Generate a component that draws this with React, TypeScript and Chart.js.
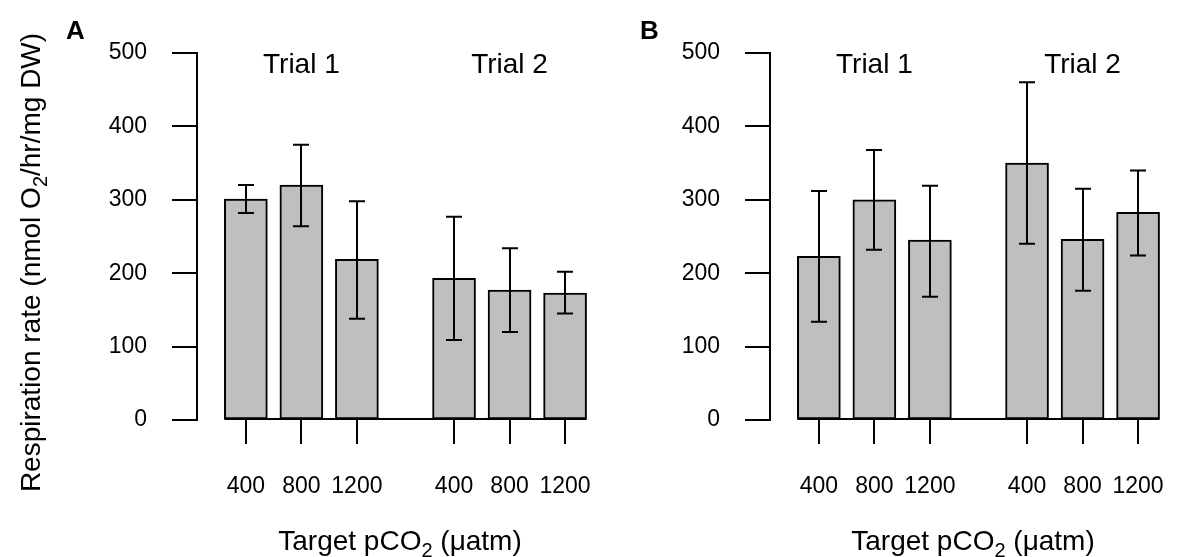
import React, { useEffect, useRef } from "react";
import { Chart, registerables } from "chart.js";

Chart.register(...registerables);

// ---------- data ----------
const doseLabels = ["400", "800", "1200"];
const trialLabels = ["Trial 1", "Trial 2"];
const yTickValues = [0, 100, 200, 300, 400, 500];

const meansA = [301, 320, 219, 193, 177, 173];
const lowA = [282, 264, 138, 109, 120, 145];
const highA = [320, 375, 298, 277, 234, 202];

const meansB = [223, 300, 245, 350, 246, 283];
const lowB = [134, 232, 168, 240, 176, 224];
const highB = [312, 368, 319, 460, 315, 340];

const xTitleParts = [
  { text: "Target pCO" },
  { text: "2", sub: true },
  { text: " (\u03bcatm)" },
];
const yTitleParts = [
  { text: "Respiration rate (nmol O" },
  { text: "2", sub: true },
  { text: "/hr/mg DW)" },
];

// ---------- layout / style ----------
const FONT = '"Liberation Sans", Arial, Helvetica, sans-serif';
const GROUP_GAP = 0.75;
const X_MIN = -0.88;
const X_MAX = 6.145;
const BAR_W = 43;
const CAP_HALF = 8;
const W = 1179;
const H = 557;

const positions = trialLabels.flatMap((_, g) =>
  doseLabels.map((_, d) => g * (doseLabels.length + GROUP_GAP) + d)
);
const tickText = trialLabels.flatMap(() => doseLabels);
const groupCenters = trialLabels.map(
  (_, g) => g * (doseLabels.length + GROUP_GAP) + (doseLabels.length - 1) / 2
);

type Part = { text: string; sub?: boolean };

function partsWidth(ctx: CanvasRenderingContext2D, parts: Part[], size: number) {
  let w = 0;
  for (const p of parts) {
    ctx.font = `${p.sub ? Math.round(size * 0.7) : size}px ${FONT}`;
    w += ctx.measureText(p.text).width;
  }
  return w;
}

function drawParts(
  ctx: CanvasRenderingContext2D,
  parts: Part[],
  size: number,
  cx: number,
  baseline: number
) {
  const total = partsWidth(ctx, parts, size);
  let x = cx - total / 2;
  ctx.textAlign = "left";
  ctx.textBaseline = "alphabetic";
  for (const p of parts) {
    ctx.font = `${p.sub ? Math.round(size * 0.7) : size}px ${FONT}`;
    ctx.fillText(p.text, x, baseline + (p.sub ? size * 0.25 : 0));
    x += ctx.measureText(p.text).width;
  }
}

type PanelProps = {
  letter: string;
  means: number[];
  low: number[];
  high: number[];
  showYTitle: boolean;
  left: number;
  width: number;
  yAxisWidth: number;
  padRight: number;
  letterX: number;
};

function zeroPadding(s: any) {
  s.paddingLeft = 0;
  s.paddingRight = 0;
  s.paddingTop = 0;
  s.paddingBottom = 0;
}

function Panel(props: PanelProps) {
  const ref = useRef<HTMLCanvasElement | null>(null);

  useEffect(() => {
    const canvas = ref.current;
    if (!canvas) return;
    const { means, low, high, showYTitle, yAxisWidth, padRight, letter, letterX } = props;

    const annot = {
      id: "annot" + letter,
      afterDatasetsDraw(chart: any) {
        const ctx: CanvasRenderingContext2D = chart.ctx;
        const xs = chart.scales.x;
        const ys = chart.scales.y;
        ctx.save();
        ctx.strokeStyle = "#000";
        ctx.lineWidth = 2;
        ctx.lineCap = "butt";
        // baseline joining bars (aligned with the bars' bottom borders)
        const y0 = ys.getPixelForValue(0) - 1;
        ctx.beginPath();
        ctx.moveTo(xs.getPixelForValue(positions[0]) - BAR_W / 2, y0);
        ctx.lineTo(xs.getPixelForValue(positions[positions.length - 1]) + BAR_W / 2, y0);
        ctx.stroke();
        // error bars
        positions.forEach((pos, i) => {
          const px = Math.round(xs.getPixelForValue(pos));
          const lo = ys.getPixelForValue(low[i]);
          const hi = ys.getPixelForValue(high[i]);
          ctx.beginPath();
          ctx.moveTo(px, lo);
          ctx.lineTo(px, hi);
          ctx.moveTo(px - CAP_HALF, hi);
          ctx.lineTo(px + CAP_HALF, hi);
          ctx.moveTo(px - CAP_HALF, lo);
          ctx.lineTo(px + CAP_HALF, lo);
          ctx.stroke();
        });
        ctx.restore();
      },
      afterDraw(chart: any) {
        const ctx: CanvasRenderingContext2D = chart.ctx;
        const xs = chart.scales.x;
        const ys = chart.scales.y;
        const area = chart.chartArea;
        ctx.save();
        ctx.fillStyle = "#000";
        // trial labels
        ctx.font = `28px ${FONT}`;
        ctx.textAlign = "center";
        ctx.textBaseline = "alphabetic";
        trialLabels.forEach((t, g) => {
          ctx.fillText(t, xs.getPixelForValue(groupCenters[g]), ys.getPixelForValue(500) + 20);
        });
        // panel letter
        ctx.font = `bold 26px ${FONT}`;
        ctx.textAlign = "left";
        ctx.fillText(letter, letterX, 39);
        // x title
        drawParts(ctx, xTitleParts, 28, (area.left + area.right) / 2 + 8, 550);
        // y title
        if (showYTitle) {
          ctx.translate(40, (area.top + area.bottom) / 2 + 26);
          ctx.rotate(-Math.PI / 2);
          drawParts(ctx, yTitleParts, 28, 0, 0);
        }
        ctx.restore();
      },
    };

    const chart = new Chart(canvas, {
      type: "bar",
      data: {
        datasets: [
          {
            data: positions.map((x, i) => ({ x, y: means[i] })),
            backgroundColor: "#bfbfbf",
            borderColor: "#000",
            borderWidth: 2,
            borderSkipped: false,
            barThickness: BAR_W,
          } as any,
        ],
      },
      options: {
        animation: false,
        responsive: false,
        maintainAspectRatio: false,
        layout: { padding: { left: 0, top: 53, right: padRight, bottom: 0 } },
        plugins: {
          legend: { display: false },
          tooltip: { enabled: false },
          title: { display: false },
        },
        scales: {
          x: {
            type: "linear",
            min: X_MIN,
            max: X_MAX,
            offset: false,
            afterBuildTicks: (s: any) => {
              s.ticks = positions.map((v) => ({ value: v }));
            },
            afterFit: (s: any) => {
              s.height = 137;
              zeroPadding(s);
            },
            ticks: {
              autoSkip: false,
              maxRotation: 0,
              minRotation: 0,
              padding: 29,
              color: "#000",
              font: { family: FONT, size: 23 },
              callback: (_v: any, i: number) => tickText[i],
            },
            grid: {
              display: true,
              offset: false,
              drawOnChartArea: false,
              drawTicks: true,
              tickLength: 24,
              color: "#000",
              lineWidth: 2,
            },
            border: { display: false },
          },
          y: {
            type: "linear",
            min: 0,
            max: 500,
            afterBuildTicks: (s: any) => {
              s.ticks = yTickValues.map((v) => ({ value: v }));
            },
            afterFit: (s: any) => {
              s.width = yAxisWidth;
              zeroPadding(s);
            },
            ticks: {
              padding: 25,
              color: "#000",
              font: { family: FONT, size: 23 },
              callback: (v: any) => String(v),
            },
            grid: {
              display: true,
              drawOnChartArea: false,
              drawTicks: true,
              tickLength: 25,
              color: "#000",
              lineWidth: 2,
            },
            border: { display: true, color: "#000", width: 2 },
          },
        } as any,
      },
      plugins: [annot as any],
    });
    return () => chart.destroy();
  }, []);

  return (
    <canvas
      ref={ref}
      width={props.width}
      height={H}
      style={{ position: "absolute", left: props.left, top: 0, width: props.width, height: H }}
    />
  );
}

export default function App() {
  return (
    <div
      style={{
        position: "fixed",
        left: 0,
        top: 0,
        width: W,
        height: H,
        background: "#fff",
        overflow: "hidden",
      }}
    >
      <Panel
        letter="A"
        means={meansA}
        low={lowA}
        high={highA}
        showYTitle={true}
        left={0}
        width={600}
        yAxisWidth={197}
        padRight={13}
        letterX={66}
      />
      <Panel
        letter="B"
        means={meansB}
        low={lowB}
        high={highB}
        showYTitle={false}
        left={590}
        width={589}
        yAxisWidth={180}
        padRight={19}
        letterX={50}
      />
    </div>
  );
}
